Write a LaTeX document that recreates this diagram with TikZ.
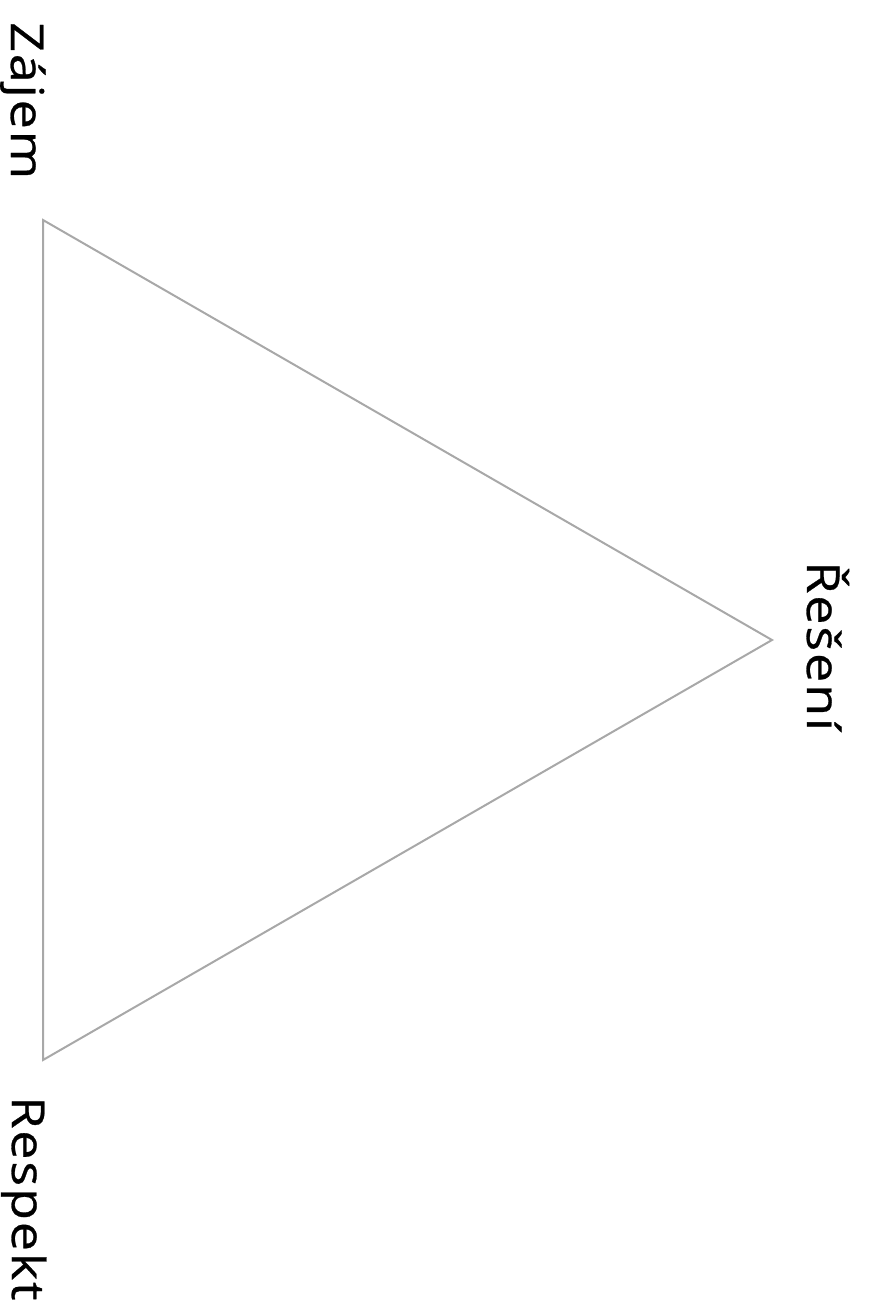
\documentclass[tikz,border=0pt]{standalone}
\usepackage{fontspec}
\usepackage{tikz}
\newfontfamily\vertexfont[LetterSpace=4, FakeStretch=1.15, FakeBold=0.6]{Open Sans}
\definecolor{edgegray}{RGB}{168,168,168}

\begin{document}
\begin{tikzpicture}[x=0.75pt, y=-0.75pt,
  vertexname/.style={rotate=-90, anchor=base west, inner sep=0pt,
    font=\vertexfont\fontsize{34}{40}\selectfont}]
\useasboundingbox (0,0) rectangle (874,1314);
\coordinate (zajem) at (43,220);
\coordinate (reseni) at (772,640);
\coordinate (respekt) at (43,1060);
\draw[edgegray, line width=1.5pt, line join=miter] (zajem) -- (reseni) -- (respekt) -- cycle;
\node[vertexname] (zajemtext) at (11,22) {Zájem};
\node[vertexname] (resenitext) at (807,561) {Řešení};
\node[vertexname] (respekttext) at (12,1096) {Respekt};
\end{tikzpicture}
\end{document}
